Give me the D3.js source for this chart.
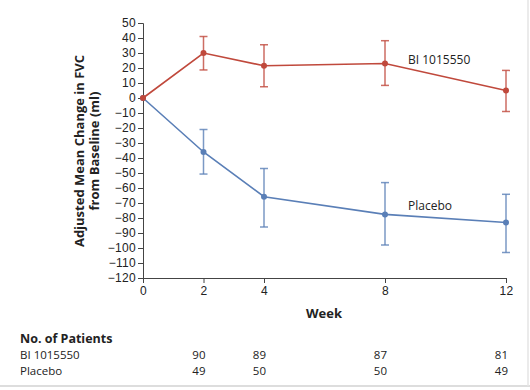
<!DOCTYPE html>
<html>
<head>
<meta charset="utf-8">
<script src="https://cdn.jsdelivr.net/npm/d3@7"></script>
<style>
  body { margin: 0; background: #fff; }
  svg { font-family: "Open Sans", sans-serif; }
  .tick text { font-size: 12px; fill: #222; letter-spacing: 0.3px; }
</style>
</head>
<body>
<div id="chart"></div>
<script>
// Data
const weeks = [0, 2, 4, 8, 12];
const biMean = [0, 30, 21.5, 23, 5];
const biLow = [null, 18.7, 7.5, 8.4, -9];
const biHigh = [null, 41, 35.5, 38.2, 18.4];
const pboMean = [0, -36, -65.8, -77.6, -83];
const pboLow = [null, -50.7, -86, -98, -103];
const pboHigh = [null, -21, -47, -56.4, -64.2];
const yTicks = d3.range(-120, 51, 10);
const biPatients = [90, 89, 87, 81];
const pboPatients = [49, 50, 50, 49];
const patientWeeks = [2, 4, 8, 12];

const width = 530, height = 390;
const red = "#c0493c", blue = "#5a7fb7";

const svg = d3.select("#chart")
              .append("svg")
              .attr("width", width)
              .attr("height", height);

const x = d3.scaleLinear().domain([0, 12]).range([143, 506]);
const y = d3.scaleLinear().domain([-120, 50]).range([278, 23]);

// Axes
svg.append("g")
   .attr("transform", "translate(143,0)")
   .call(d3.axisLeft(y).tickValues(yTicks).tickSize(5).tickPadding(2)
         .tickFormat(d => d < 0 ? "\u2212" + Math.abs(d) : d))
   .call(g => g.selectAll("line, path").attr("stroke", "#444"));

svg.append("g")
   .attr("transform", "translate(0,278)")
   .call(d3.axisBottom(x).tickValues(weeks).tickSize(5).tickPadding(3).tickSizeOuter(0))
   .call(g => g.selectAll("line, path").attr("stroke", "#444"));

// Series
function drawSeries(mean, low, high, color) {
  const g = svg.append("g");
  const line = d3.line().x((d, i) => x(weeks[i])).y(d => y(d));
  g.append("path")
   .datum(mean)
   .attr("d", line)
   .attr("fill", "none")
   .attr("stroke", color)
   .attr("stroke-width", 1.6);

  const err = weeks.map((w, i) => ({w, lo: low[i], hi: high[i]})).filter(d => d.lo !== null);
  const eb = g.selectAll(".eb").data(err).join("g")
              .attr("stroke", color).attr("stroke-opacity", 0.8).attr("stroke-width", 1.5);
  eb.append("line").attr("x1", d => x(d.w)).attr("x2", d => x(d.w))
    .attr("y1", d => y(d.lo)).attr("y2", d => y(d.hi));
  eb.append("line").attr("x1", d => x(d.w) - 4).attr("x2", d => x(d.w) + 4)
    .attr("y1", d => y(d.lo)).attr("y2", d => y(d.lo));
  eb.append("line").attr("x1", d => x(d.w) - 4).attr("x2", d => x(d.w) + 4)
    .attr("y1", d => y(d.hi)).attr("y2", d => y(d.hi));

  g.selectAll("circle").data(mean).join("circle")
   .attr("cx", (d, i) => x(weeks[i]))
   .attr("cy", d => y(d))
   .attr("r", 3)
   .attr("fill", color);
}
drawSeries(pboMean, pboLow, pboHigh, blue);
drawSeries(biMean, biLow, biHigh, red);

// Series labels
svg.append("text").attr("x", 408).attr("y", 64)
   .attr("font-size", 12).attr("fill", "#222").text("BI 1015550");
svg.append("text").attr("x", 408).attr("y", 210)
   .attr("font-size", 12).attr("fill", "#222").text("Placebo");

// Axis titles
const yt = svg.append("text")
   .attr("transform", "translate(84,151) rotate(-90)")
   .attr("text-anchor", "middle")
   .attr("font-size", 13).attr("font-weight", "bold").attr("fill", "#222");
yt.append("tspan").attr("x", 0).attr("dy", 0).text("Adjusted Mean Change in FVC");
yt.append("tspan").attr("x", 0).attr("dy", 15).text("from Baseline (ml)");

svg.append("text").attr("x", 324).attr("y", 318)
   .attr("text-anchor", "middle")
   .attr("font-size", 13).attr("font-weight", "bold").attr("fill", "#222").text("Week");

// Number at risk table
svg.append("text").attr("x", 20).attr("y", 343)
   .attr("font-size", 12.5).attr("font-weight", "bold").attr("fill", "#222").text("No. of Patients");
const rows = [["BI 1015550", biPatients, 359], ["Placebo", pboPatients, 375]];
rows.forEach(([name, vals, yy]) => {
  svg.append("text").attr("x", 20).attr("y", yy)
     .attr("font-size", 11.5).attr("fill", "#222").text(name);
  svg.selectAll(null).data(vals).join("text")
     .attr("x", (d, i) => x(patientWeeks[i]) + 2)
     .attr("y", yy)
     .attr("text-anchor", "end")
     .attr("font-size", 11.5).attr("fill", "#222")
     .text(d => d);
});

// Light frame lines at bottom and right
svg.append("line").attr("x1", 0).attr("x2", width).attr("y1", 386).attr("y2", 386)
   .attr("stroke", "#ddd").attr("stroke-width", 2);
svg.append("line").attr("x1", 528).attr("x2", 528).attr("y1", 0).attr("y2", 386)
   .attr("stroke", "#e4e4e4").attr("stroke-width", 1.5);
</script>
</body>
</html>
